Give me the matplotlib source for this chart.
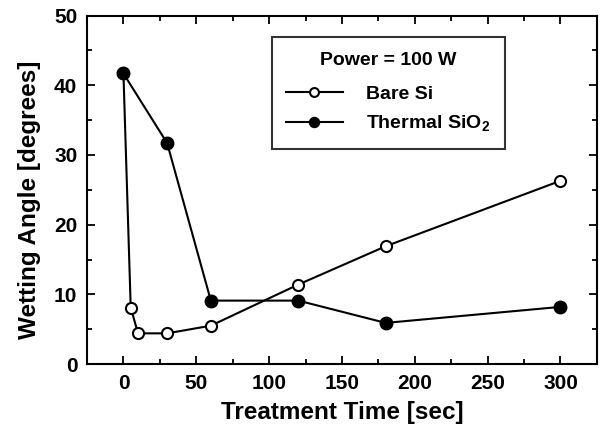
import matplotlib
matplotlib.use("Agg")
import matplotlib.pyplot as plt
from matplotlib.ticker import MultipleLocator

plt.rcParams['font.family'] = ['Liberation Sans', 'DejaVu Sans']
plt.rcParams['font.weight'] = 'bold'
plt.rcParams['mathtext.fontset'] = 'custom'
plt.rcParams['mathtext.rm'] = 'Liberation Sans:bold'
plt.rcParams['mathtext.bf'] = 'Liberation Sans:bold'

# Treatment time (s) and wetting angle (degrees)
bare_time = [0, 5, 10, 30, 60, 120, 180, 300]
bare_angle = [41.7, 8.1, 4.4, 4.4, 5.5, 11.4, 16.9, 26.3]
oxide_time = [0, 30, 60, 120, 180, 300]
oxide_angle = [41.7, 31.7, 9.1, 9.1, 5.9, 8.2]

fig = plt.figure(figsize=(6.06, 4.29), dpi=100)
ax = fig.add_axes([0.1436, 0.1515, 0.8414, 0.812])

ax.plot(bare_time, bare_angle, '-o', color='black', lw=1.5,
        mfc='white', mec='black', mew=1.5, ms=8, label='Bare Si', zorder=3)
ax.plot(oxide_time, oxide_angle, '-o', color='black', lw=1.5,
        mfc='black', mec='black', ms=9, label=r'Thermal SiO$_{\mathbf{2}}$', zorder=4)

ax.set_xlim(-25, 325)
ax.set_ylim(0, 50)
ax.xaxis.set_major_locator(MultipleLocator(50))
ax.xaxis.set_minor_locator(MultipleLocator(25))
ax.yaxis.set_major_locator(MultipleLocator(10))
ax.yaxis.set_minor_locator(MultipleLocator(5))
ax.tick_params(which='both', direction='in', top=True, right=True, width=1.3)
ax.tick_params(which='major', length=6, labelsize=15, pad=7)
ax.tick_params(which='minor', length=3.5)
for s in ax.spines.values():
    s.set_linewidth(1.5)

ax.set_xlabel('Treatment Time [sec]', fontsize=17.5, fontweight='bold', labelpad=6)
ax.set_ylabel('Wetting Angle [degrees]', fontsize=17.5, fontweight='bold')
ax.yaxis.set_label_coords(-0.09, 0.47)

leg = ax.legend(loc='upper left', bbox_to_anchor=(0.362, 0.938), borderaxespad=0,
                title='Power = 100 W', fontsize=14, title_fontsize=14,
                frameon=True, fancybox=False, edgecolor='black',
                handlelength=2.9, handletextpad=1.2, labelspacing=0.55,
                borderpad=0.75, markerscale=0.8)
leg.get_frame().set_linewidth(1.5)
leg.get_title().set_fontweight('bold')
leg._legend_box.align = 'center'
leg._legend_box.sep = 12  # a little more room under the title

fig.savefig('out.png', dpi=100)
